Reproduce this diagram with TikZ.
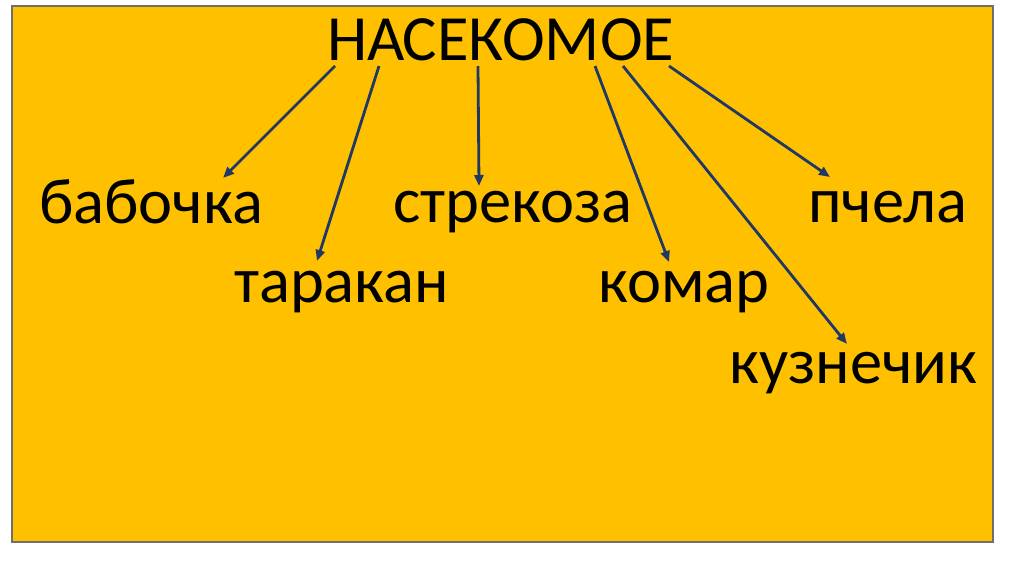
\documentclass[tikz,border=0pt]{standalone}
\usepackage{fontspec}
\setmainfont{Carlito}
\usetikzlibrary{arrows.meta}
\definecolor{gold}{HTML}{FFC000}
\definecolor{navy}{HTML}{1F3864}
\definecolor{framegray}{HTML}{6E6E6E}
\begin{document}
\begin{tikzpicture}[x=1pt,y=-1pt,
  word/.style={anchor=base west, inner sep=0pt, font=\fontsize{64.5}{72}\selectfont},
  link/.style={draw=navy, line width=2.8pt, -{Triangle[length=11pt,width=9pt]}}]
\useasboundingbox (0,0) rectangle (1024,574);
\draw[framegray, fill=gold, line width=1.8pt] (12,6) rectangle (993,542);
\node[word] (top) at (327,60) {НАСЕКОМОЕ};
\node[word] (babochka) at (39,223) {бабочка};
\node[word] (strekoza) at (393,222) {стрекоза};
\node[word] (pchela) at (808,222) {пчела};
\node[word] (tarakan) at (234,302) {таракан};
\node[word] (komar) at (598,302) {комар};
\node[word] (kuznechik) at (729,383) {кузнечик};
\coordinate (s1) at (335,66);
\coordinate (s2) at (379,66);
\coordinate (s3) at (478,66);
\coordinate (s4) at (595,66);
\coordinate (s5) at (623,66);
\coordinate (s6) at (669,66);
\coordinate (e1) at (223,178);
\coordinate (e2) at (317,261);
\coordinate (e3) at (479,186);
\coordinate (e4) at (669,262);
\coordinate (e5) at (847,344);
\coordinate (e6) at (830,177);
\draw[link] (s1) -- (e1);
\draw[link] (s2) -- (e2);
\draw[link] (s3) -- (e3);
\draw[link] (s4) -- (e4);
\draw[link] (s5) -- (e5);
\draw[link] (s6) -- (e6);
\end{tikzpicture}
\end{document}
